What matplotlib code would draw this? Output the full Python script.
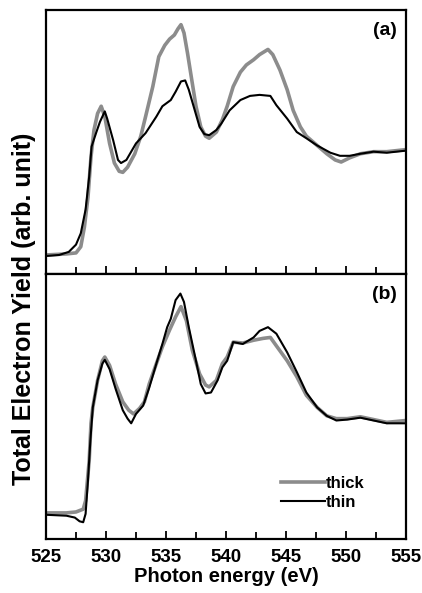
import matplotlib.pyplot as plt
from matplotlib.ticker import MultipleLocator

plt.rcParams['font.family'] = ['Liberation Sans', 'DejaVu Sans']
plt.rcParams['font.weight'] = 'bold'

# panel (a), normalised TEY (pre-edge 0, post-edge 1)
a_thick_x = [525, 526.7, 527.5, 527.9, 528.2, 528.5, 528.75, 529.0, 529.3, 529.6, 529.9, 530.3, 530.7,
             531.1, 531.4, 531.8, 532.4, 532.9, 533.3, 533.9, 534.4, 534.9, 535.3, 535.7, 536.0,
             536.25, 536.5, 536.8, 537.1, 537.5, 537.9, 538.3, 538.6, 539.2, 539.7, 540.1, 540.6,
             541.2, 541.7, 542.3, 542.8, 543.5, 543.9, 544.5, 545.1, 545.6, 546.2, 546.7, 547.6,
             548.4, 549.1, 549.6, 550.3, 551.2, 552.3, 553.4, 555]
a_thick_y = [0.00, 0.01, 0.02, 0.08, 0.27, 0.56, 0.95, 1.21, 1.37, 1.44, 1.34, 1.08, 0.89,
             0.81, 0.80, 0.85, 0.98, 1.15, 1.34, 1.63, 1.92, 2.03, 2.09, 2.13, 2.19,
             2.23, 2.15, 1.95, 1.73, 1.44, 1.24, 1.15, 1.13, 1.19, 1.31, 1.44, 1.63,
             1.77, 1.84, 1.89, 1.94, 1.99, 1.94, 1.79, 1.60, 1.40, 1.24, 1.15, 1.06,
             0.98, 0.92, 0.90, 0.94, 0.98, 1.00, 1.00, 1.02]
a_thin_x = [525, 526.1, 526.9, 527.5, 527.9, 528.3, 528.6, 528.8, 529.2, 529.5, 529.9, 530.1, 530.6,
            531.0, 531.25, 531.7, 532.5, 533.3, 534.2, 534.7, 535.4, 535.8, 536.25, 536.6, 536.9,
            537.4, 537.8, 538.2, 538.6, 539.2, 539.6, 540.3, 541.2, 542.0, 542.8, 543.7, 544.2,
            545.1, 545.9, 546.7, 547.6, 548.7, 549.5, 550.3, 551.2, 552.3, 553.4, 555]
a_thin_y = [-0.01, 0.00, 0.03, 0.10, 0.21, 0.44, 0.76, 1.05, 1.19, 1.29, 1.39, 1.32, 1.11,
            0.92, 0.89, 0.92, 1.08, 1.18, 1.34, 1.44, 1.50, 1.58, 1.68, 1.69, 1.60,
            1.40, 1.24, 1.17, 1.16, 1.21, 1.27, 1.40, 1.50, 1.54, 1.55, 1.54, 1.45,
            1.32, 1.19, 1.13, 1.06, 0.99, 0.96, 0.96, 0.98, 1.00, 0.99, 1.01]

# panel (b)
b_thick_x = [525, 526.7, 527.5, 528.1, 528.3, 528.6, 528.75, 528.9, 529.3, 529.7, 529.9, 530.3, 530.8,
             531.4, 531.9, 532.3, 532.8, 533.2, 533.6, 534.2, 534.7, 535.3, 535.8, 536.25, 536.7,
             537.2, 537.8, 538.3, 538.6, 539.2, 539.7, 540.1, 540.6, 541.4, 542.3, 543.1, 543.7,
             544.2, 545.1, 545.9, 546.7, 547.6, 548.4, 549.2, 550.1, 551.2, 552.3, 553.4, 555]
b_thick_y = [0.02, 0.02, 0.03, 0.06, 0.15, 0.58, 0.98, 1.15, 1.44, 1.65, 1.69, 1.60, 1.40,
             1.21, 1.12, 1.08, 1.14, 1.21, 1.40, 1.62, 1.80, 1.98, 2.12, 2.23, 2.08,
             1.76, 1.51, 1.39, 1.37, 1.44, 1.62, 1.69, 1.85, 1.84, 1.87, 1.89, 1.90,
             1.81, 1.65, 1.48, 1.28, 1.15, 1.06, 1.03, 1.03, 1.05, 1.02, 0.99, 1.01]
b_thin_x = [525, 526.7, 527.4, 527.8, 528.1, 528.3, 528.5, 528.7, 528.9, 529.3, 529.7, 529.9, 530.3,
            530.8, 531.4, 531.8, 532.1, 532.5, 533.1, 533.6, 534.2, 534.7, 535.1, 535.4, 535.8,
            536.2, 536.5, 536.9, 537.5, 537.9, 538.3, 538.75, 539.3, 539.7, 540.1, 540.6, 541.4,
            542.3, 542.8, 543.5, 544.2, 545.1, 545.9, 546.7, 547.6, 548.4, 549.2, 550.1, 551.2,
            552.3, 553.4, 555]
b_thin_y = [0.00, -0.01, -0.03, -0.07, -0.08, 0.01, 0.37, 0.80, 1.15, 1.44, 1.62, 1.66, 1.56,
            1.35, 1.12, 1.03, 0.98, 1.08, 1.17, 1.36, 1.62, 1.83, 2.01, 2.10, 2.30,
            2.37, 2.28, 2.01, 1.65, 1.40, 1.30, 1.31, 1.44, 1.58, 1.65, 1.85, 1.83,
            1.90, 1.97, 2.01, 1.94, 1.74, 1.53, 1.31, 1.15, 1.06, 1.01, 1.02, 1.04,
            1.01, 0.98, 0.98]

gray = '#8c8c8c'

fig = plt.figure(figsize=(4.22, 5.93), dpi=100)
ax1 = fig.add_axes([0.109, 0.538, 0.853, 0.445])
ax2 = fig.add_axes([0.109, 0.091, 0.853, 0.447], sharex=ax1)

ax1.plot(a_thick_x, a_thick_y, color=gray, lw=2.6, label='thick')
ax1.plot(a_thin_x, a_thin_y, color='black', lw=1.5, label='thin')
ax2.plot(b_thick_x, b_thick_y, color=gray, lw=2.6, label='thick')
ax2.plot(b_thin_x, b_thin_y, color='black', lw=1.5, label='thin')

ax1.set_ylim(-0.184, 2.371)
ax2.set_ylim(-0.26, 2.58)
ax1.set_xlim(525, 555)

for ax, lab in [(ax1, '(a)'), (ax2, '(b)')]:
    ax.set_yticks([])
    ax.xaxis.set_major_locator(MultipleLocator(5))
    ax.xaxis.set_minor_locator(MultipleLocator(2.5))
    ax.tick_params(axis='x', which='both', direction='in', width=1.3)
    ax.tick_params(axis='x', which='major', length=6)
    ax.tick_params(axis='x', which='minor', length=5)
    for s in ax.spines.values():
        s.set_linewidth(1.6)
    ax.text(0.976, 0.955, lab, transform=ax.transAxes, ha='right', va='top',
            fontsize=14, fontweight='bold')

ax1.tick_params(axis='x', labelbottom=False)
ax2.tick_params(axis='x', labelsize=13.5, pad=7)
ax2.set_xlabel('Photon energy (eV)', fontsize=14.5, fontweight='bold', labelpad=1)
fig.text(0.057, 0.48, 'Total Electron Yield (arb. unit)', rotation=90, ha='center', va='center',
         fontsize=18, fontweight='bold')

ax2.legend(loc='lower left', bbox_to_anchor=(0.635, 0.085), frameon=False, fontsize=12,
           handlelength=2.6, handletextpad=0.05, labelspacing=0.25, borderaxespad=0)

fig.savefig('out.png', dpi=100)
